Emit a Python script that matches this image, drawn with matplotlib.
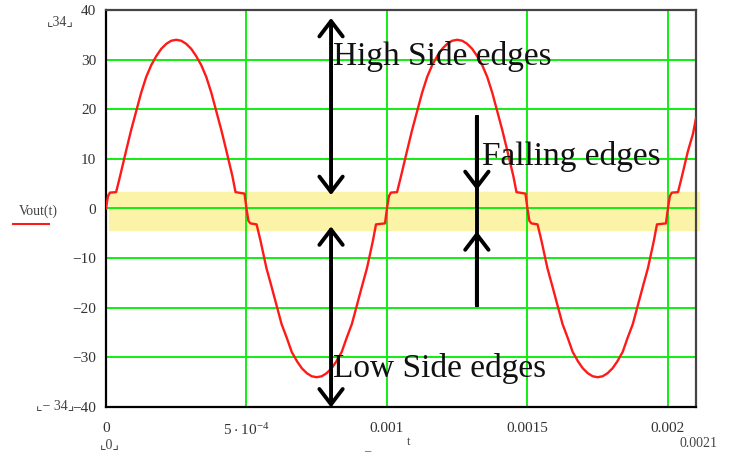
import numpy as np
import matplotlib.pyplot as plt

plt.rcParams.update({
    "font.family": ["Liberation Serif", "DejaVu Sans"],
    "mathtext.default": "regular",
    "axes.unicode_minus": True,
})

# Vout(t), t in microseconds
t_us = [0, 7, 14, 36, 50, 71, 89, 107, 125, 143, 161, 180, 197, 215, 232, 250,
        268, 285, 303, 320, 339, 357, 375, 393, 411, 429, 450, 461, 493, 500,
        507, 514, 536, 550, 571, 589, 607, 625, 643, 661, 680, 697, 715, 732, 750,
        768, 785, 803, 820, 839, 857, 875, 893, 911, 929, 950, 961, 993, 1000,
        1007, 1014, 1036, 1050, 1071, 1089, 1107, 1125, 1143, 1161, 1180, 1197,
        1215, 1232, 1250,
        1268, 1285, 1303, 1320, 1339, 1357, 1375, 1393, 1411, 1429, 1450, 1461,
        1493, 1500,
        1507, 1514, 1536, 1550, 1571, 1589, 1607, 1625, 1643, 1661, 1680, 1697,
        1715, 1732, 1750,
        1768, 1785, 1803, 1820, 1839, 1857, 1875, 1893, 1911, 1929, 1950, 1961,
        1993, 2000,
        2007, 2014, 2036, 2050, 2071, 2089, 2100]
vout = [0.0, 2.5, 3.2, 3.3, 6.5, 11.5, 15.7, 19.5, 23.3, 26.5, 28.9, 30.8, 32.2, 33.2, 33.8, 34.0,
        33.8, 33.2, 32.2, 30.8, 28.9, 26.5, 23.3, 19.5, 15.7, 11.5, 6.5, 3.3, 3.0, 0.0,
        -2.5, -3.0, -3.2, -6.5, -12.0, -15.7, -19.5, -23.3, -26.0, -28.9, -30.8, -32.2, -33.2, -33.8, -34.0,
        -33.8, -33.2, -32.2, -30.8, -28.9, -26.0, -23.3, -19.5, -15.7, -12.0, -6.5, -3.2, -3.0, 0.0,
        2.5, 3.2, 3.3, 6.5, 11.5, 15.7, 19.5, 23.3, 26.5, 28.9, 30.8, 32.2,
        33.2, 33.8, 34.0,
        33.8, 33.2, 32.2, 30.8, 28.9, 26.5, 23.3, 19.5, 15.7, 11.5, 6.5, 3.3,
        3.0, 0.0,
        -2.5, -3.0, -3.2, -6.5, -12.0, -15.7, -19.5, -23.3, -26.0, -28.9, -30.8, -32.2,
        -33.2, -33.8, -34.0,
        -33.8, -33.2, -32.2, -30.8, -28.9, -26.0, -23.3, -19.5, -15.7, -12.0, -6.5, -3.2,
        -3.0, 0.0,
        2.5, 3.2, 3.3, 6.5, 11.5, 15.0, 18.2]

band = (-4.4, 3.4)
x_ticks = [0, 5e-4, 1e-3, 1.5e-3, 2e-3]
x_labels = ["0", r"$5\cdot10^{-4}$", "0.001", "0.0015", "0.002"]
y_ticks = list(range(-40, 41, 10))

# annotations: (x, y_from, y_to)
arrow_high = (8.01e-4, 2.7, 38.4)
arrow_low = (8.01e-4, -3.6, -40.1)
fall_x, fall_top, fall_bot, fall_tip_dn, fall_tip_up = 1.32e-3, 18.4, -19.5, 3.7, -4.6
labels = [(8.08e-4, 28.9, "High Side edges"),
          (1.338e-3, 8.7, "Falling edges"),
          (8.08e-4, -34.0, "Low Side edges")]

W, H = 731, 461
fig = plt.figure(figsize=(W / 100, H / 100), dpi=100)
ax = fig.add_axes([106 / W, 1 - 407 / H, 590 / W, 397 / H])

t = np.array(t_us) * 1e-6
ax.plot(t, vout, color="#ff1a1a", lw=1.7, zorder=3)
ax.axhspan(band[0], band[1], xmin=0.005, xmax=1.005, color="#fbf3a8",
           zorder=0.5, clip_on=False)

ax.set_xlim(0, 0.0021)
ax.set_ylim(-40, 40)
ax.set_xticks(x_ticks, x_labels)
ax.set_yticks(y_ticks)
ax.grid(color="#11ee11", lw=1.4)
ax.tick_params(length=0, labelsize=11, labelcolor="#333333")
ax.tick_params(axis="x", pad=11)
ax.tick_params(axis="y", pad=7)
for side in ["left", "bottom"]:
    ax.spines[side].set_color("black")
    ax.spines[side].set_linewidth(1.6)
for side in ["top", "right"]:
    ax.spines[side].set_color("#444444")
    ax.spines[side].set_linewidth(1.6)

head = dict(color="black", lw=2.8, shrinkA=0, shrinkB=0, mutation_scale=20)
for x, y0, y1 in [arrow_high, arrow_low]:
    ax.annotate("", xy=(x, y1), xytext=(x, y0),
                arrowprops=dict(arrowstyle="<->,head_length=0.55,head_width=0.42", **head),
                annotation_clip=False)
ax.plot([fall_x, fall_x], [fall_top, fall_bot], color="black", lw=2.8, zorder=4)
ax.annotate("", xy=(fall_x, fall_tip_dn), xytext=(fall_x, fall_top),
            arrowprops=dict(arrowstyle="->,head_length=0.55,head_width=0.42", **head))
ax.annotate("", xy=(fall_x, fall_tip_up), xytext=(fall_x, fall_bot),
            arrowprops=dict(arrowstyle="->,head_length=0.55,head_width=0.42", **head))

for x, y, s in labels:
    ax.text(x, y, s, fontsize=24, va="baseline", ha="left", color="#111111", zorder=5)

# Mathcad-style placeholders and legend
gray = "#444444"
fig.text(60 / W, 1 - 22 / H, "⌞34⌟", fontsize=10, color=gray, ha="center", va="center")
fig.text(55 / W, 1 - 406 / H, "⌞− 34⌟", fontsize=10, color=gray, ha="center", va="center")
fig.text(110 / W, 1 - 445 / H, "⌞0⌟", fontsize=10, color=gray, ha="center", va="center")
fig.text(698 / W, 1 - 443 / H, "0.0021", fontsize=10, color=gray, ha="center", va="center")
fig.text(409 / W, 1 - 442 / H, "t", fontsize=9, color=gray, ha="center", va="center")
fig.text(367 / W, 1 - 447 / H, "_", fontsize=9, color=gray, ha="center", va="center")
fig.text(38 / W, 1 - 211 / H, "Vout(t)", fontsize=10, color=gray, ha="center", va="center")
fig.add_artist(plt.Line2D([13 / W, 49 / W], [1 - 224 / H, 1 - 224 / H],
                          color="#ff1a1a", lw=1.5))

fig.savefig("out.png", dpi=100)
